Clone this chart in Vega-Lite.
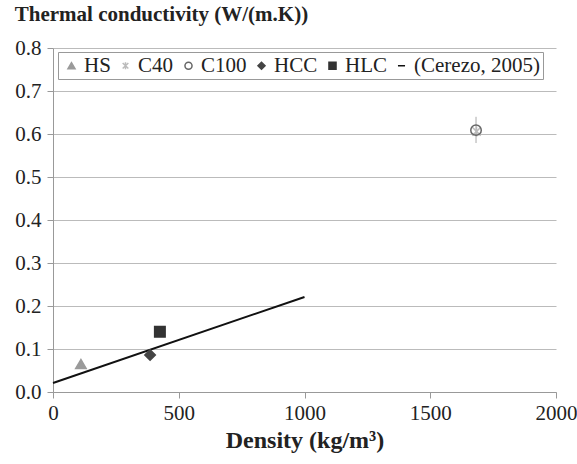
{
  "$schema": "https://vega.github.io/schema/vega-lite/v6.json",
  "width": 503,
  "height": 344,
  "autosize": {"type": "none"},
  "padding": {"left": 53, "top": 48, "right": 21, "bottom": 72},
  "background": "white",
  "title": {
    "text": "Thermal conductivity (W/(m.K))",
    "anchor": "start",
    "dx": 0,
    "offset": 12,
    "font": "Liberation Serif",
    "fontSize": 21,
    "fontWeight": "bold",
    "color": "#222"
  },
  "config": {
    "font": "Liberation Serif",
    "view": {"stroke": null},
    "axis": {
      "labelFont": "Liberation Serif",
      "labelFontSize": 21,
      "labelColor": "#222",
      "titleFont": "Liberation Serif",
      "titleColor": "#222",
      "domainColor": "#999",
      "tickColor": "#999",
      "gridColor": "#bbb"
    },
    "legend": {
      "orient": "none",
      "legendX": 5,
      "legendY": 4,
      "direction": "horizontal",
      "columns": 6,
      "labelFont": "Liberation Serif",
      "labelFontSize": 21,
      "labelColor": "#222",
      "strokeColor": "#999",
      "fillColor": "white",
      "padding": 3,
      "columnPadding": 4,
      "labelOffset": 2,
      "symbolSize": 50,
      "symbolStrokeWidth": 1.5,
      "labelLimit": 300
    }
  },
  "datasets": {
    "pts": [
      {"series": "HS", "density": 111, "k": 0.065},
      {"series": "C40", "density": 1684, "k": 0.606},
      {"series": "C100", "density": 1682, "k": 0.609},
      {"series": "HCC", "density": 386, "k": 0.086},
      {"series": "HLC", "density": 425, "k": 0.14}
    ],
    "line": [
      {"series": "(Cerezo, 2005)", "density": 0, "k": 0.021},
      {"series": "(Cerezo, 2005)", "density": 1000, "k": 0.221}
    ],
    "err": [
      {"density": 1682, "lo": 0.579, "hi": 0.64}
    ]
  },
  "layer": [
    {
      "data": {"name": "err"},
      "mark": {"type": "rule", "color": "#aaa", "strokeWidth": 1},
      "encoding": {
        "x": {"field": "density", "type": "quantitative"},
        "y": {"field": "lo", "type": "quantitative"},
        "y2": {"field": "hi"}
      }
    },
    {
      "data": {"name": "line"},
      "mark": {"type": "line", "strokeWidth": 2},
      "encoding": {
        "x": {"field": "density", "type": "quantitative"},
        "y": {"field": "k", "type": "quantitative"},
        "stroke": {"field": "series", "type": "nominal", "title": null}
      }
    },
    {
      "data": {"name": "pts"},
      "mark": {"type": "point", "size": 110, "strokeWidth": 1.5, "opacity": 1},
      "encoding": {
        "x": {
          "field": "density", "type": "quantitative",
          "scale": {"domain": [0, 2000], "nice": false},
          "axis": {"values": [0, 500, 1000, 1500, 2000], "format": "d", "grid": false, "title": "Density (kg/m³)", "titleFontSize": 24, "titleFontWeight": "bold", "titlePadding": 5, "labelPadding": 4, "tickSize": 6, "labelFlush": false}
        },
        "y": {
          "field": "k", "type": "quantitative",
          "scale": {"domain": [0, 0.8], "nice": false},
          "axis": {"values": [0, 0.1, 0.2, 0.3, 0.4, 0.5, 0.6, 0.7, 0.8], "format": ".1f", "title": null, "tickSize": 6, "labelPadding": 6}
        },
        "shape": {
          "field": "series", "type": "nominal", "title": null,
          "scale": {"domain": ["HS", "C40", "C100", "HCC", "HLC", "(Cerezo, 2005)"], "range": ["triangle-up", "M-0.8,-0.8L0.8,0.8M-0.8,0.8L0.8,-0.8M0,-1L0,1", "circle", "diamond", "square", "stroke"]}
        },
        "fill": {
          "field": "series", "type": "nominal", "title": null,
          "scale": {"domain": ["HS", "C40", "C100", "HCC", "HLC", "(Cerezo, 2005)"], "range": ["#9a9a9a", "transparent", "transparent", "#444", "#333", "#111"]}
        },
        "stroke": {
          "field": "series", "type": "nominal", "title": null,
          "scale": {"domain": ["HS", "C40", "C100", "HCC", "HLC", "(Cerezo, 2005)"], "range": ["#9a9a9a", "#bbbbbb", "#666", "#444", "#333", "#111"]}
        }
      }
    }
  ]
}
